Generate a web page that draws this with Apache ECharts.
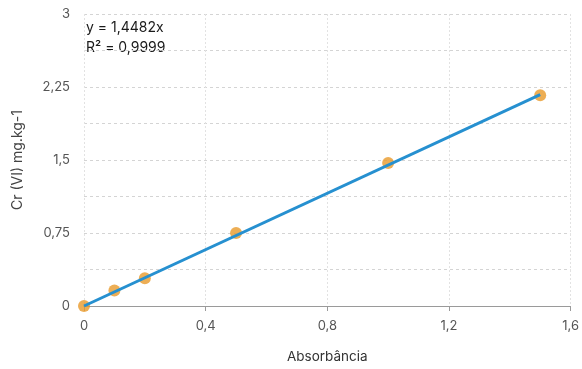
<!DOCTYPE html>
<html><head><meta charset="utf-8">
<script src="https://cdn.jsdelivr.net/npm/echarts@6/dist/echarts.min.js"></script>
<style>html,body{margin:0;padding:0;background:#fff}#c{width:582px;height:369px}</style>
</head><body><div id="c"></div>
<script>
const xValues = [0, 0.1, 0.2, 0.5, 1.0, 1.5];
const yValues = [0, 0.16, 0.285, 0.75, 1.47, 2.165];
const slope = 1.4482;
const trendX = [0, 1.5];
const eqLabels = ['y = 1,4482x', 'R² = 0,9999'];
const xTicks = [0, 0.4, 0.8, 1.2, 1.6];
const yTicks = [0, 0.75, 1.5, 2.25, 3];

const fmt = v => String(+v.toFixed(2)).replace('.', ',');
const chart = echarts.init(document.getElementById('c'));
const F = 'Inter, "Open Sans", sans-serif';
chart.setOption({
  animation: false,
  grid: {left: 84, right: 9, top: 14, bottom: 63},
  graphic: [
    {type: 'text', left: 86, top: 21, style: {text: eqLabels[0], font: '14px ' + F, fill: '#1a1a1a'}},
    {type: 'text', left: 86, top: 41, style: {text: eqLabels[1], font: '14px ' + F, fill: '#1a1a1a'}}
  ],
  xAxis: {
    type: 'value', min: 0, max: 1.6, interval: 0.4,
    name: 'Absorbância', nameLocation: 'middle', nameGap: 44,
    nameTextStyle: {fontFamily: F, fontSize: 13.5, color: '#333'},
    axisLine: {show: true, lineStyle: {color: '#9a9a9a', width: 1}},
    axisTick: {show: true, length: 5, lineStyle: {color: '#9a9a9a'}},
    axisLabel: {fontFamily: F, fontSize: 13, color: '#555', margin: 14,
      formatter: v => xTicks.some(t => Math.abs(t - v) < 1e-6) ? fmt(v) : ''},
    splitLine: {show: true, lineStyle: {color: '#e2e2e2', type: [2, 2]}}
  },
  yAxis: {
    type: 'value', min: 0, max: 3, interval: 0.375,
    name: 'Cr (VI) mg.kg-1', nameLocation: 'middle', nameGap: 59,
    nameTextStyle: {fontFamily: F, fontSize: 14, color: '#444'},
    axisLine: {show: false}, axisTick: {show: false},
    axisLabel: {fontFamily: F, fontSize: 13, color: '#555', margin: 14,
      formatter: v => yTicks.some(t => Math.abs(t - v) < 1e-6) ? fmt(v) : ''},
    splitLine: {show: true, lineStyle: {color: '#d4d4d4', type: [3, 3]}}
  },
  series: [
    {type: 'scatter', data: xValues.map((x, i) => [x, yValues[i]]), symbolSize: 12,
      itemStyle: {color: '#e89a2a'}, z: 2},
    {type: 'line', data: trendX.map(x => [x, slope * x]), showSymbol: false, symbol: 'none',
      lineStyle: {color: '#2690d0', width: 3}, z: 3}
  ]
});
</script></body></html>
